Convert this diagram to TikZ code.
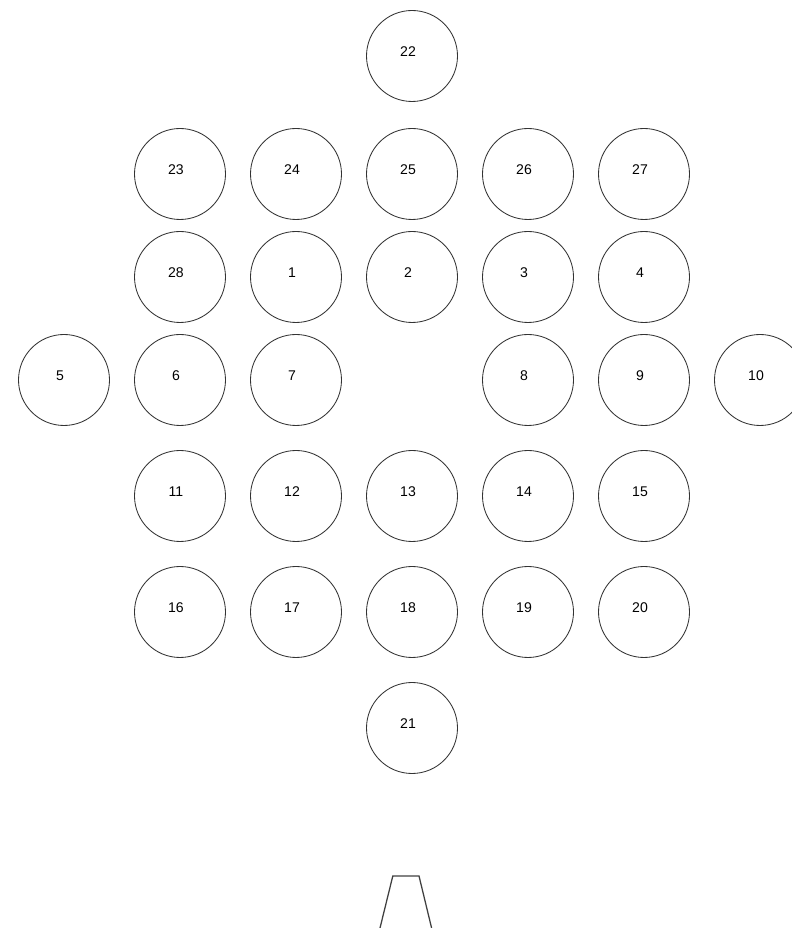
\documentclass[tikz,border=0pt]{standalone}
\usepackage{fontspec}
\setmainfont{Liberation Sans}
\usepackage{tikz}
\usetikzlibrary{calc, positioning}

\begin{document}
\begin{tikzpicture}[
  hole/.style={draw=black!80, circle, minimum size=2.275cm, line width=0.6pt},
  num/.style={font=\fontsize{10}{12}\selectfont, xshift=-1mm, yshift=1mm}]
\useasboundingbox (0,0) rectangle (19.8,23.2);

% Top hole
\node[hole, label={[num]center:22}] (h22) at (10.3,21.8) {};

% Upper rows
\node[hole, label={[num]center:23}] (h23) at (4.5,18.85) {};
\node[hole, label={[num]center:24}] (h24) at (7.4,18.85) {};
\node[hole, label={[num]center:25}] (h25) at (10.3,18.85) {};
\node[hole, label={[num]center:26}] (h26) at (13.2,18.85) {};
\node[hole, label={[num]center:27}] (h27) at (16.1,18.85) {};

\node[hole, label={[num]center:28}] (h28) at (4.5,16.275) {};
\node[hole, label={[num]center:1}] (h1) at (7.4,16.275) {};
\node[hole, label={[num]center:2}] (h2) at (10.3,16.275) {};
\node[hole, label={[num]center:3}] (h3) at (13.2,16.275) {};
\node[hole, label={[num]center:4}] (h4) at (16.1,16.275) {};

% Middle row (centre left empty)
\node[hole, label={[num]center:5}] (h5) at (1.6,13.7) {};
\node[hole, label={[num]center:6}] (h6) at (4.5,13.7) {};
\node[hole, label={[num]center:7}] (h7) at (7.4,13.7) {};
\node[hole, label={[num]center:8}] (h8) at (13.2,13.7) {};
\node[hole, label={[num]center:9}] (h9) at (16.1,13.7) {};
\node[hole, label={[num]center:10}] (h10) at (19.0,13.7) {};

% Lower rows
\node[hole, label={[num]center:11}] (h11) at (4.5,10.8) {};
\node[hole, label={[num]center:12}] (h12) at (7.4,10.8) {};
\node[hole, label={[num]center:13}] (h13) at (10.3,10.8) {};
\node[hole, label={[num]center:14}] (h14) at (13.2,10.8) {};
\node[hole, label={[num]center:15}] (h15) at (16.1,10.8) {};

\node[hole, label={[num]center:16}] (h16) at (4.5,7.9) {};
\node[hole, label={[num]center:17}] (h17) at (7.4,7.9) {};
\node[hole, label={[num]center:18}] (h18) at (10.3,7.9) {};
\node[hole, label={[num]center:19}] (h19) at (13.2,7.9) {};
\node[hole, label={[num]center:20}] (h20) at (16.1,7.9) {};

% Bottom hole
\node[hole, label={[num]center:21}] (h21) at (10.3,5.0) {};

% Stand
\draw[draw=black!75, line width=0.9pt] (9.5,0) -- (9.82,1.3) -- (10.475,1.3) -- (10.79,0);
\end{tikzpicture}
\end{document}
